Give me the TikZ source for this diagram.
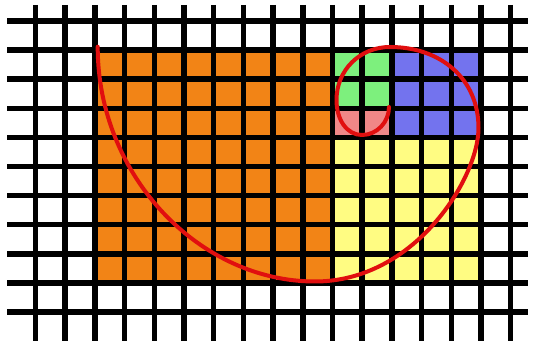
\documentclass[tikz,border=0pt]{standalone}
\usepackage{tikz}
\definecolor{cellorange}{RGB}{242,132,22}
\definecolor{cellgreen}{RGB}{125,240,125}
\definecolor{cellpink}{RGB}{240,135,135}
\definecolor{cellblue}{RGB}{115,115,238}
\definecolor{cellyellow}{RGB}{255,252,130}
\definecolor{spiralred}{RGB}{225,15,15}
\tikzset{
  gridline/.style={black, line width=5.5pt},
  spiralline/.style={spiralred, line width=4pt, line cap=round, line join=round},
}
\begin{document}
\begin{tikzpicture}[x=1pt,y=-1pt]
\useasboundingbox (0,0) rectangle (533,344);
\fill[white] (0,0) rectangle (533,344);
% coloured squares
\fill[cellorange] (94.9,50.1) rectangle (332.5,282.9);
\fill[cellgreen] (332.5,50.1) rectangle (391.9,108.3);
\fill[cellpink] (332.5,108.3) rectangle (391.9,137.4);
\fill[cellblue] (391.9,50.1) rectangle (481,137.4);
\fill[cellyellow] (332.5,137.4) rectangle (481,282.9);
% grid
\foreach \i in {0,...,16} {
  \draw[gridline] ({35.5+29.7*\i},5) -- ({35.5+29.7*\i},341);
}
\foreach \j in {0,...,10} {
  \draw[gridline] (7,{21+29.1*\j}) -- (528,{21+29.1*\j});
}
% spiral
\coordinate (sA) at (97.7,46.7);
\coordinate (sB) at (315,281.5);
\coordinate (sC) at (478.5,128);
\coordinate (sD) at (390,47);
\coordinate (sE) at (336.5,100);
\coordinate (sF) at (362,135);
\coordinate (sG) at (389,107);
\draw[spiralline]
  (sA) .. controls (97.7,176.7) and (200,281.5) .. (sB)
       .. controls (415,281.5) and (478.5,178) .. (sC)
       .. controls (478.5,78) and (440,47) .. (sD)
       .. controls (360,47) and (336.5,70) .. (sE)
       .. controls (336.5,120) and (347,135) .. (sF)
       .. controls (377,135) and (389,122) .. (sG);
\end{tikzpicture}
\end{document}
